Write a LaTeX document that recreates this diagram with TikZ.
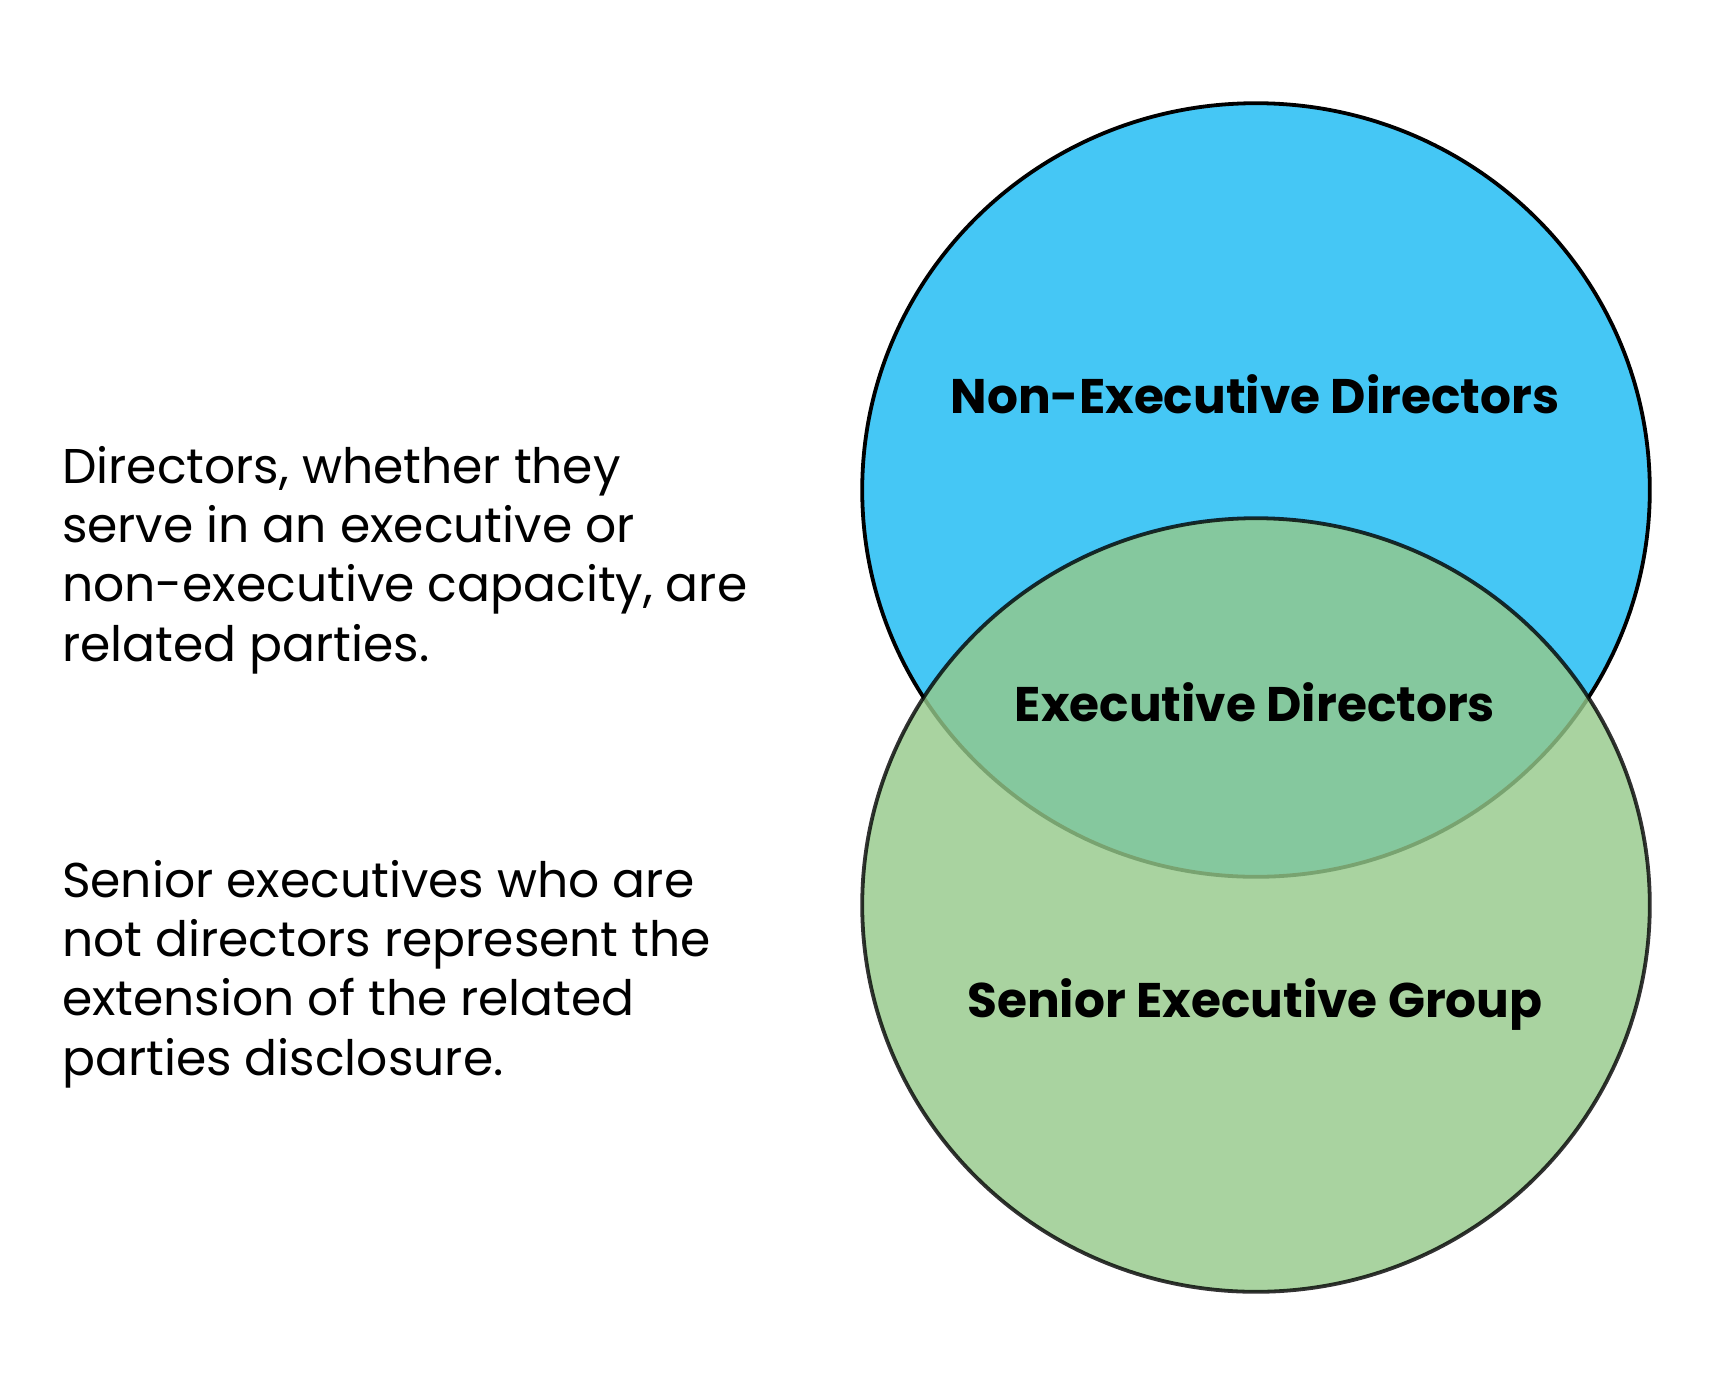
\documentclass[tikz,border=0pt]{standalone}
\usepackage{fontspec}
\setmainfont{Poppins}
\usetikzlibrary{positioning, shapes.geometric}
\definecolor{ndblue}{RGB}{69,199,245}
\definecolor{segreen}{RGB}{149,201,138}

\begin{document}
\begin{tikzpicture}[x=0.5pt, y=-0.5pt,
    venn/.style={ellipse, draw, line width=1.9pt, minimum width=393.8pt, minimum height=386.8pt, inner sep=0pt},
    label/.style={font=\fontsize{24.3}{28}\selectfont\bfseries},
    note/.style={align=left, anchor=west, font=\fontsize{24.4}{29.7}\selectfont}]
        \useasboundingbox (0,0) rectangle (1716,1398);

        % Circles
        \node[venn, fill=ndblue] (nonexec) at (1256,490) {};
        \node[venn, fill=segreen, fill opacity=0.81, draw opacity=0.8] (senior) at (1256,905) {};

        % Labels
        \node[label] (nonexeclabel) at (1255,394) {Non-Executive Directors};
        \node[label] (execlabel) at (1255,702) {Executive Directors};
        \node[label] (seniorlabel) at (1255,1004) {Senior Executive Group};

        % Notes
        \node[note] (directors) at (55,560) {Directors, whether they\\serve in an executive or\\non-executive capacity, are\\related parties.};
        \node[note] (executives) at (55,974) {Senior executives who are\\not directors represent the\\extension of the related\\parties disclosure.};
\end{tikzpicture}
\end{document}
